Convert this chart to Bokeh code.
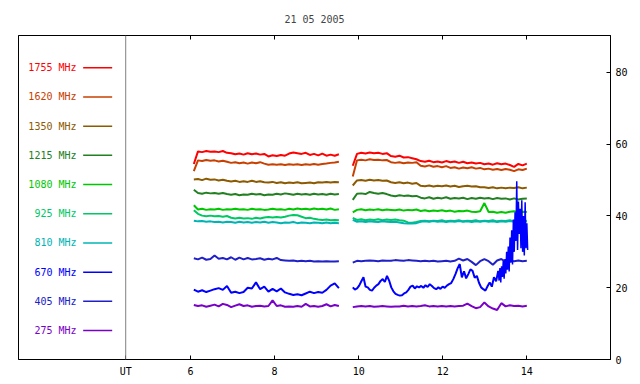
import numpy as np
from bokeh.plotting import figure
from bokeh.models import LinearAxis, FixedTicker, Span, Range1d
from bokeh.core.properties import value
from bokeh.embed import file_html
from bokeh.resources import INLINE

title_text = "21 05 2005"
labels = ["1755 MHz", "1620 MHz", "1350 MHz", "1215 MHz", "1080 MHz",
          "925 MHz", "810 MHz", "670 MHz", "405 MHz", "275 MHz"]
colors = ["#FF0000", "#C84000", "#8C5A00", "#228022", "#00C800",
          "#00C864", "#00B4B4", "#0000FF", "#2020C8", "#7800C8"]
x_ticks = [6, 8, 10, 12, 14]
y_ticks = [0, 20, 40, 60, 80]
ut_pos = 4.46
seg1 = (6.08, 9.53)
seg2 = (9.86, 14.0)
seg2_670 = (9.86, 13.32)
seg3_670 = (13.32, 14.02)

f1755_a = [54.5, 58.0, 57.8, 58.1, 57.9, 58.0, 57.8, 58.1, 57.6, 57.5, 57.2, 57.4, 57.1, 57.5, 57.2, 57.4, 57.1, 57.3,
           56.6, 56.9, 56.7, 57.0, 56.8, 57.4, 57.7, 57.5, 57.3, 57.6, 57.0, 57.3, 56.9, 57.4, 56.8, 57.1, 56.8, 57.2]
f1755_b = [54.0, 57.3, 57.6, 57.4, 57.7, 57.5, 57.6, 57.3, 57.5, 56.7, 56.5, 56.8, 56.3, 56.4, 56.1, 55.8, 55.3, 55.1,
           55.4, 55.0, 55.2, 54.9, 55.3, 55.0, 55.2, 54.8, 55.1, 54.7, 54.9, 54.6, 54.8, 54.4, 54.6, 54.3, 54.7, 54.4,
           54.6, 54.2, 53.7, 54.5, 54.1, 54.6]
f1620_a = [52.5, 55.5, 55.3, 55.6, 55.4, 55.5, 55.2, 55.4, 55.1, 54.8, 55.0, 54.7, 54.9, 54.6, 54.9, 54.7, 55.0, 54.6,
           54.3, 54.4, 54.3, 54.4, 54.2, 54.4, 54.3, 54.4, 54.2, 54.4, 54.3, 54.5, 54.3, 54.5, 54.6, 54.8, 54.9, 55.1]
f1620_b = [51.0, 55.5, 55.7, 55.5, 55.8, 55.6, 55.7, 55.5, 55.6, 55.0, 54.8, 55.0, 54.7, 54.9, 54.8, 55.0, 54.0, 53.8,
           54.1, 53.7, 53.9, 53.6, 53.9, 53.4, 53.6, 53.2, 53.5, 53.3, 53.6, 53.2, 53.4, 53.0, 53.2, 52.9, 53.1, 52.8,
           53.1, 52.9, 52.5, 53.0, 52.8, 53.2]
f1350_a = [50.2, 50.3, 50.0, 50.4, 50.1, 50.2, 49.9, 50.1, 49.8, 49.6, 49.8, 49.5, 49.7, 49.5, 49.8, 49.5, 49.7, 49.4,
           49.3, 49.5, 49.2, 49.4, 49.1, 49.3, 49.2, 49.4, 49.1, 49.2, 49.3, 49.1, 49.4, 49.3, 49.5, 49.3, 49.5, 49.4]
f1350_b = [48.5, 49.9, 50.0, 49.8, 50.1, 49.9, 50.0, 49.8, 49.9, 49.4, 49.2, 49.4, 49.1, 49.3, 49.0, 49.2, 48.4, 48.3,
           48.5, 48.2, 48.4, 48.3, 48.5, 48.2, 48.4, 48.1, 48.3, 48.4, 48.2, 48.3, 48.0, 48.0, 47.8, 48.0, 47.7, 47.9,
           47.7, 47.9, 47.8, 48.0, 47.7, 47.9]
f1215_a = [47.3, 46.4, 46.2, 46.5, 46.3, 46.4, 46.2, 46.4, 46.1, 45.9, 46.1, 45.8, 46.0, 45.9, 46.2, 46.0, 46.1, 45.8,
           46.0, 45.9, 46.2, 46.0, 46.3, 46.1, 45.9, 46.2, 46.0, 46.1, 45.9, 46.2, 46.0, 46.1, 45.9, 46.2, 46.0, 46.1]
f1215_b = [44.5, 46.2, 46.3, 46.1, 46.7, 46.4, 46.2, 46.4, 46.1, 45.7, 45.5, 45.8, 45.6, 45.7, 45.5, 45.6, 45.1, 44.9,
           45.2, 44.8, 45.1, 44.9, 45.2, 44.8, 45.0, 44.9, 45.1, 44.7, 45.0, 44.8, 45.1, 44.9, 45.0, 44.7, 45.0, 44.8,
           44.9, 44.6, 44.9, 44.6, 44.8, 44.9]
f1080_a = [43.0, 41.8, 42.0, 41.7, 41.9, 41.8, 42.0, 41.7, 41.9, 41.8, 42.0, 41.8, 41.9, 41.7, 42.0, 41.8, 41.9, 41.7,
           41.8, 42.0, 41.8, 41.9, 41.7, 42.0, 41.8, 42.1, 41.9, 42.0, 41.8, 42.1, 41.9, 42.0, 41.8, 42.1, 41.7, 41.9]
f1080_b = [41.0, 41.7, 41.9, 41.6, 41.8, 41.7, 41.9, 41.6, 41.8, 41.7, 41.6, 41.8, 41.5, 41.7, 41.6, 41.8, 41.4, 41.6,
           41.3, 41.5, 41.4, 41.6, 41.3, 41.5, 41.2, 41.4, 41.3, 41.5, 41.2, 41.1, 41.3, 43.6, 41.1, 41.2, 40.9, 41.1,
           40.9, 41.2, 41.3, 41.0, 41.2, 41.1]
f925_a = [41.6, 40.6, 40.1, 39.9, 40.1, 39.9, 40.0, 39.8, 40.0, 39.5, 39.3, 39.5, 39.3, 39.4, 39.2, 39.5, 39.3, 39.6,
          39.7, 39.6, 39.7, 39.6, 39.8, 40.1, 40.3, 40.2, 39.8, 39.4, 39.5, 39.2, 39.0, 38.9, 39.0, 38.8, 38.9, 38.8]
f925_b = [39.5, 38.9, 39.1, 38.8, 39.0, 38.9, 39.1, 38.8, 39.0, 38.9, 39.0, 38.8, 38.7, 38.2, 38.1, 38.3, 38.6, 38.7,
          38.5, 38.7, 38.6, 38.8, 38.5, 38.7, 38.6, 38.8, 38.5, 38.7, 38.6, 38.8, 38.5, 38.7, 38.6, 38.8, 38.5, 38.7,
          38.6, 38.8, 38.5, 38.7, 38.6, 38.7]
f810_a = [38.7, 38.5, 38.6, 38.4, 38.5, 38.3, 38.4, 38.2, 38.4, 38.3, 38.1, 38.4, 38.2, 38.3, 38.1, 38.3, 38.2, 38.4,
          38.1, 38.3, 38.2, 38.0, 38.2, 38.1, 38.3, 38.0, 38.2, 38.1, 38.0, 38.2, 38.1, 38.0, 38.2, 38.0, 38.1, 38.0]
f810_b = [38.9, 38.4, 38.5, 38.3, 38.5, 38.4, 38.3, 38.5, 38.4, 38.3, 38.4, 38.2, 38.0, 37.9, 37.9, 38.0, 38.4, 38.5,
          38.4, 38.6, 38.4, 38.5, 38.3, 38.5, 38.4, 38.6, 38.4, 38.5, 38.3, 38.5, 38.4, 38.6, 38.4, 38.5, 38.3, 38.5,
          38.4, 38.6, 38.4, 38.5, 38.3, 38.5]
f670_a = [19.5, 18.9, 19.3, 18.8, 19.2, 19.6, 19.9, 19.4, 20.5, 18.6, 18.9, 18.5, 18.8, 20.0, 19.8, 21.5, 19.6, 20.3,
          18.9, 19.7, 19.0, 19.8, 18.7, 18.3, 18.0, 18.2, 17.9, 18.4, 18.9, 18.5, 18.8, 18.6, 19.4, 20.6, 21.2, 19.9]
f670_b = [20.1, 19.5, 19.8, 20.6, 21.8, 22.9, 20.3, 20.1, 19.4, 19.2, 20.0, 20.6, 21.0, 21.9, 22.4, 21.6, 23.3, 22.0,
          20.1, 19.0, 18.3, 18.0, 17.8, 17.9, 18.4, 18.7, 19.4, 20.3, 20.6, 19.8, 20.4, 20.1, 20.5, 20.0, 20.7, 20.2,
          21.0, 20.5, 19.9, 19.6, 20.1, 19.7, 20.3, 20.0, 20.6, 21.0, 21.3, 22.4, 23.8, 25.4, 26.6, 22.9, 24.6, 22.6,
          23.8, 25.1, 24.7, 22.8, 23.3, 21.4, 20.1, 19.6, 19.2, 20.4, 21.5, 20.3, 22.9, 21.8, 24.7]
f670_c = [24.7, 22.0, 25.5, 21.5, 26.0, 23.0, 27.5, 22.5, 28.0, 24.0, 30.0, 25.0, 31.5, 24.5, 34.0, 27.0, 36.0, 26.5,
          39.0, 30.0, 41.0, 33.0, 49.7, 30.5, 44.0, 35.0, 42.0, 31.0, 44.4, 30.0, 40.0, 29.0, 43.8, 31.0, 38.0, 30.5]
f405_a = [28.2, 27.9, 28.4, 27.8, 28.0, 29.0, 28.1, 28.3, 27.9, 28.5, 27.8, 28.4, 27.9, 28.3, 27.9, 28.0, 28.2, 27.8,
          28.1, 27.9, 28.3, 27.7, 27.6, 27.5, 27.6, 27.4, 27.5, 27.4, 27.5, 27.3, 27.4, 27.3, 27.4, 27.3, 27.3, 27.4]
f405_b = [27.0, 27.5, 27.4, 27.5, 27.6, 27.5, 27.4, 27.6, 27.5, 27.5, 27.7, 27.6, 27.5, 27.7, 27.6, 27.5, 27.4, 27.5,
          27.4, 27.5, 27.3, 27.4, 27.5, 27.3, 27.5, 28.1, 27.6, 28.0, 27.2, 26.3, 27.4, 28.0, 27.4, 26.4, 27.6, 28.0,
          27.3, 27.5, 27.4, 27.6, 27.4, 27.5]
f275_a = [15.2, 14.9, 15.1, 14.7, 15.0, 15.3, 14.8, 15.5, 15.2, 14.6, 15.0, 15.4, 14.9, 15.1, 14.7, 14.9, 15.0, 14.8,
          14.9, 16.5, 14.9, 15.1, 14.7, 14.8, 14.7, 14.9, 14.7, 15.5, 14.8, 14.9, 14.7, 14.9, 15.4, 14.8, 15.2, 14.9]
f275_b = [14.6, 14.8, 14.9, 14.8, 14.9, 14.7, 14.8, 14.9, 14.8, 14.7, 14.8, 14.8, 15.0, 14.8, 14.9, 14.8, 14.9, 15.1,
          14.8, 14.9, 14.8, 14.9, 14.8, 14.9, 14.8, 14.9, 15.0, 15.6, 14.9, 14.3, 14.6, 15.9, 14.8, 14.2, 13.8, 15.7,
          14.8, 15.1, 14.9, 15.0, 14.8, 15.0]

series = [(f1755_a, f1755_b), (f1620_a, f1620_b), (f1350_a, f1350_b), (f1215_a, f1215_b),
          (f1080_a, f1080_b), (f925_a, f925_b), (f810_a, f810_b), (f670_a, None),
          (f405_a, f405_b), (f275_a, f275_b)]

FONT = "DejaVu Sans Mono"
FS = "10px"

p = figure(width=640, height=384, x_range=Range1d(1.91, 15.99), y_range=Range1d(0, 90.3),
           x_axis_location=None, y_axis_location=None, output_backend="svg", toolbar_location=None,
           min_border_left=18, min_border_right=30, min_border_top=35, min_border_bottom=25)
p.xgrid.visible = False
p.ygrid.visible = False
p.outline_line_color = "black"
p.outline_line_alpha = 1.0
p.background_fill_color = "white"
p.border_fill_color = "white"

p.title.text = title_text
p.title.align = "center"
p.title.text_font = FONT
p.title.text_font_size = FS
p.title.text_font_style = "normal"
p.title.standoff = 22


def style_axis(ax):
    ax.major_tick_in = 4
    ax.major_tick_out = 0
    ax.minor_tick_line_color = None
    ax.axis_line_color = "black"
    ax.major_tick_line_color = "black"
    ax.major_label_text_font = FONT
    ax.major_label_text_font_size = FS
    ax.major_label_text_color = "black"


xb = LinearAxis(ticker=FixedTicker(ticks=[ut_pos] + x_ticks), major_label_overrides={ut_pos: "UT"})
style_axis(xb)
xb.major_label_standoff = 6
p.add_layout(xb, "below")

xt = LinearAxis(ticker=FixedTicker(ticks=x_ticks), major_label_overrides={t: "" for t in x_ticks})
style_axis(xt)
xt.major_label_standoff = 0
p.add_layout(xt, "above")

yr = LinearAxis(ticker=FixedTicker(ticks=y_ticks))
style_axis(yr)
yr.major_label_standoff = 5
p.add_layout(yr, "right")

p.add_layout(Span(location=ut_pos, dimension="height", line_color="#808080", line_width=1))

for (a, b), c in zip(series, colors):
    p.line(np.linspace(seg1[0], seg1[1], len(a)), a, line_color=c, line_width=2)
    if b is not None:
        p.line(np.linspace(seg2[0], seg2[1], len(b)), b, line_color=c, line_width=2)

c670 = colors[labels.index("670 MHz")]
p.line(np.linspace(seg2_670[0], seg2_670[1], len(f670_b)), f670_b, line_color=c670, line_width=2)
p.line(np.linspace(seg3_670[0], seg3_670[1], len(f670_c)), f670_c, line_color=c670, line_width=1.5)

# legend
leg_top, leg_step = 81.3, 8.136
leg_y = [leg_top - i * leg_step for i in range(len(labels))]
p.text(x=[3.29] * len(labels), y=leg_y, text=labels, text_color=colors,
       text_font=value(FONT), text_font_size=FS, text_align="right", text_baseline="middle")
p.segment(x0=[3.448] * len(labels), y0=leg_y, x1=[4.138] * len(labels), y1=leg_y,
          line_color=colors, line_width=1.5)

open("out.html", "w").write(file_html(p, INLINE))
